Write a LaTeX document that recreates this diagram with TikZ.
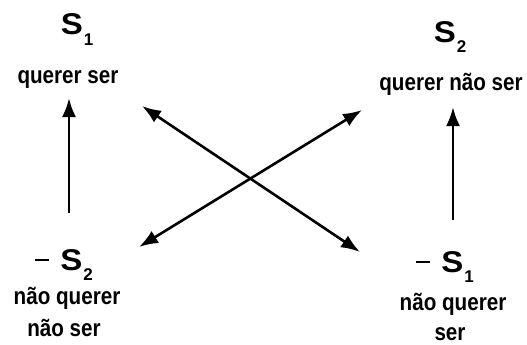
\documentclass[tikz,border=0pt]{standalone}
\usepackage{fontspec}
\setmainfont{Liberation Sans}
\usetikzlibrary{arrows.meta}
\newcommand{\lbl}[1]{\scalebox{0.86}[1]{\fontsize{24}{24}\selectfont\bfseries #1}}
\newcommand{\sym}[1]{\scalebox{1.1}[1]{\fontsize{30}{30}\selectfont\bfseries S}\hspace{1pt}\raisebox{-10pt}{\fontsize{17}{17}\selectfont\bfseries #1}}
\newcommand{\negsign}{\rule[9pt]{14pt}{2.2pt}\hspace{11pt}}
\begin{document}
\begin{tikzpicture}[x=1pt,y=-1pt,
  txt/.style={inner sep=0pt,anchor=base},
  arr/.style={line width=2.8pt,-{Latex[length=19pt,width=14pt]}},
  darr/.style={line width=2.6pt,{Latex[length=19pt,width=14pt]}-{Latex[length=19pt,width=14pt]}}]
\useasboundingbox (0,0) rectangle (527,345);
% top left
\node[txt] (s1) at (77,35) {\sym{1}};
\node[txt] (s1t) at (68,83) {\lbl{querer ser}};
% top right
\node[txt] (s2) at (450,42) {\sym{2}};
\node[txt] (s2t) at (451,90) {\lbl{querer não ser}};
% bottom left
\node[txt] (ns2) at (64,270) {\negsign\sym{2}};
\node[txt] (ns2t) at (67,304) {\lbl{não querer}};
\node[txt] (ns2u) at (64,336) {\lbl{não ser}};
% bottom right
\node[txt] (ns1) at (445,272) {\negsign\sym{1}};
\node[txt] (ns1t) at (453,310) {\lbl{não querer}};
\node[txt] (ns1u) at (450,340) {\lbl{ser}};
% arrow ends
\coordinate (la) at (69,213);
\coordinate (lb) at (69,98);
\coordinate (ra) at (453,220);
\coordinate (rb) at (453,107);
\coordinate (d1a) at (142,106);
\coordinate (d1b) at (360,252);
\coordinate (d2a) at (139,247);
\coordinate (d2b) at (362,110);
\draw[arr] (la) -- (lb);
\draw[arr] (ra) -- (rb);
\draw[darr] (d1a) -- (d1b);
\draw[darr] (d2a) -- (d2b);
\end{tikzpicture}
\end{document}
